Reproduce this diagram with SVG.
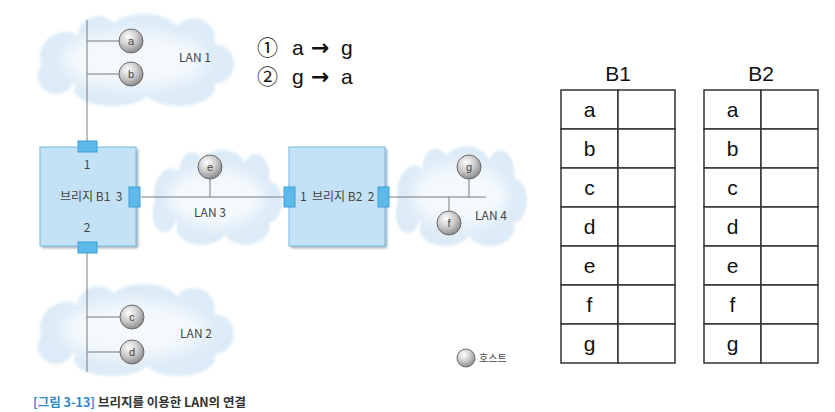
<svg xmlns="http://www.w3.org/2000/svg" xmlns:xlink="http://www.w3.org/1999/xlink" width="835" height="412" viewBox="0 0 835 412">
<style>
.lbl{font-family:"Noto Sans CJK KR","Liberation Sans",sans-serif;font-size:12px;fill:#444}
.hl{font-family:"Liberation Sans","Noto Sans CJK KR",sans-serif;font-size:11px;fill:#444;text-anchor:middle}
.ln{stroke:#7a7a7a;stroke-width:1;fill:none}
.host{fill:url(#hg);stroke:#6a6a6a;stroke-width:1}
.bridge{fill:#c3e2f5;stroke:#86c1e6;stroke-width:1.2}
.port{fill:#5cb9ea;stroke:#3d9fd8;stroke-width:1}
.big{font-family:"Liberation Sans","Noto Sans CJK KR",sans-serif;font-size:21px;fill:#111}
.arr{font-family:"DejaVu Sans",sans-serif;font-size:22px;fill:#111;font-weight:bold}
.cell{fill:#fff;stroke:#333;stroke-width:1.5}
.tc{font-family:"Liberation Sans",sans-serif;font-size:21px;fill:#111;text-anchor:middle}
</style>
<defs>
<radialGradient id="hg" cx="0.38" cy="0.32" r="0.7">
<stop offset="0" stop-color="#ffffff"/>
<stop offset="0.55" stop-color="#c9c9c9"/>
<stop offset="1" stop-color="#8a8a8a"/>
</radialGradient>
<filter id="soft" x="-10%" y="-10%" width="120%" height="120%"><feGaussianBlur stdDeviation="1.5"/></filter>
<filter id="soft2" x="-20%" y="-20%" width="140%" height="140%"><feGaussianBlur stdDeviation="8"/></filter>
<filter id="sh" x="-10%" y="-10%" width="120%" height="120%"><feGaussianBlur stdDeviation="1.5"/></filter>
<g id="cloud">
<g fill="#dcebf7" filter="url(#soft)">
<ellipse cx="100" cy="46" rx="88" ry="32"/>
<circle cx="32" cy="44" r="26"/>
<circle cx="64" cy="22" r="20"/>
<ellipse cx="110" cy="17" rx="34" ry="17"/>
<circle cx="160" cy="25" r="21"/>
<circle cx="180" cy="50" r="20"/>
<ellipse cx="145" cy="74" rx="36" ry="18"/>
<ellipse cx="78" cy="76" rx="38" ry="16"/>
<circle cx="22" cy="62" r="18"/>
</g>
<ellipse cx="100" cy="46" rx="72" ry="28" fill="#f5f9fd" filter="url(#soft2)"/>
</g>
</defs>
<rect width="835" height="412" fill="#fff"/>

<g id="lan1">
<use xlink:href="#cloud" transform="translate(34,14)"/>
<text class="lbl" x="195" y="62" text-anchor="middle">LAN 1</text>
</g>
<g id="lan2">
<use xlink:href="#cloud" transform="translate(34,284)"/>
<text class="lbl" x="196" y="338" text-anchor="middle">LAN 2</text>
</g>
<g id="lan3">
<use xlink:href="#cloud" transform="translate(150,150) scale(0.66,1.03)"/>
<text class="lbl" x="210" y="217" text-anchor="middle">LAN 3</text>
</g>
<g id="lan4">
<use xlink:href="#cloud" transform="translate(393,146) scale(0.67,1.09)"/>
<text class="lbl" x="491" y="220" text-anchor="middle">LAN 4</text>
</g>

<g id="connectors">
<line class="ln" x1="87" y1="20" x2="87" y2="142"/>
<line class="ln" x1="87" y1="41" x2="119" y2="41"/>
<line class="ln" x1="87" y1="74" x2="119" y2="74"/>
<line class="ln" x1="87" y1="253" x2="87" y2="372"/>
<line class="ln" x1="87" y1="317" x2="120" y2="317"/>
<line class="ln" x1="87" y1="352" x2="120" y2="352"/>
<line class="ln" x1="141" y1="197" x2="284" y2="197"/>
<line class="ln" x1="210" y1="179" x2="210" y2="197"/>
<line class="ln" x1="389" y1="197" x2="486" y2="197"/>
<line class="ln" x1="469" y1="179" x2="469" y2="197"/>
<line class="ln" x1="449" y1="197" x2="449" y2="211"/>
</g>

<g id="bridgeB1">
<rect x="42" y="149" width="96" height="99" fill="#9aa6b0" filter="url(#sh)"/>
<rect class="bridge" x="40" y="147" width="96" height="99"/>
<rect class="port" x="78" y="141" width="19" height="11"/>
<rect class="port" x="78" y="242" width="19" height="11"/>
<rect class="port" x="129" y="187" width="11" height="20"/>
<text class="lbl" x="87" y="169" text-anchor="middle">1</text>
<text class="lbl" x="60" y="201" xml:space="preserve">브리지 B1  3</text>
<text class="lbl" x="87" y="232" text-anchor="middle">2</text>
</g>

<g id="bridgeB2">
<rect x="291" y="149" width="96" height="99" fill="#9aa6b0" filter="url(#sh)"/>
<rect class="bridge" x="289" y="147" width="96" height="99"/>
<rect class="port" x="284" y="187" width="11" height="20"/>
<rect class="port" x="378" y="187" width="11" height="20"/>
<text class="lbl" x="300" y="201" xml:space="preserve">1  브리지 B2  2</text>
</g>

<g id="host-a"><circle class="host" cx="131" cy="41" r="12"/><text class="hl" x="131" y="45">a</text></g>
<g id="host-b"><circle class="host" cx="131" cy="74" r="12"/><text class="hl" x="131" y="78">b</text></g>
<g id="host-c"><circle class="host" cx="132" cy="317" r="12"/><text class="hl" x="132" y="321">c</text></g>
<g id="host-d"><circle class="host" cx="132" cy="352" r="12"/><text class="hl" x="132" y="356">d</text></g>
<g id="host-e"><circle class="host" cx="210" cy="167" r="12"/><text class="hl" x="210" y="171">e</text></g>
<g id="host-g"><circle class="host" cx="469" cy="167" r="12"/><text class="hl" x="469" y="171">g</text></g>
<g id="host-f"><circle class="host" cx="449" cy="223" r="12"/><text class="hl" x="449" y="227">f</text></g>

<g id="legend">
<circle class="host" cx="466" cy="358" r="9"/>
<text class="lbl" x="479" y="362" style="font-size:10px">호스트</text>
</g>

<g id="annotation">
<text class="big" x="257" y="55">①</text><text class="big" x="292" y="55">a</text><text class="arr" x="311" y="55">→</text><text class="big" x="341" y="55">g</text>
<text class="big" x="257" y="84">②</text><text class="big" x="292" y="84">g</text><text class="arr" x="311" y="84">→</text><text class="big" x="341" y="84">a</text>
</g>

<g id="tableB1">
<text class="tc" x="618" y="81">B1</text>
<rect class="cell" x="561" y="90" width="57" height="39"/><rect class="cell" x="618" y="90" width="57" height="39"/>
<rect class="cell" x="561" y="129" width="57" height="39"/><rect class="cell" x="618" y="129" width="57" height="39"/>
<rect class="cell" x="561" y="168" width="57" height="39"/><rect class="cell" x="618" y="168" width="57" height="39"/>
<rect class="cell" x="561" y="207" width="57" height="39"/><rect class="cell" x="618" y="207" width="57" height="39"/>
<rect class="cell" x="561" y="246" width="57" height="39"/><rect class="cell" x="618" y="246" width="57" height="39"/>
<rect class="cell" x="561" y="285" width="57" height="39"/><rect class="cell" x="618" y="285" width="57" height="39"/>
<rect class="cell" x="561" y="324" width="57" height="39"/><rect class="cell" x="618" y="324" width="57" height="39"/>
<text class="tc" x="589.5" y="117">a</text>
<text class="tc" x="589.5" y="156">b</text>
<text class="tc" x="589.5" y="195">c</text>
<text class="tc" x="589.5" y="234">d</text>
<text class="tc" x="589.5" y="273">e</text>
<text class="tc" x="589.5" y="312">f</text>
<text class="tc" x="589.5" y="351">g</text>
</g>

<g id="tableB2">
<text class="tc" x="761" y="81">B2</text>
<rect class="cell" x="704" y="90" width="57" height="39"/><rect class="cell" x="761" y="90" width="57" height="39"/>
<rect class="cell" x="704" y="129" width="57" height="39"/><rect class="cell" x="761" y="129" width="57" height="39"/>
<rect class="cell" x="704" y="168" width="57" height="39"/><rect class="cell" x="761" y="168" width="57" height="39"/>
<rect class="cell" x="704" y="207" width="57" height="39"/><rect class="cell" x="761" y="207" width="57" height="39"/>
<rect class="cell" x="704" y="246" width="57" height="39"/><rect class="cell" x="761" y="246" width="57" height="39"/>
<rect class="cell" x="704" y="285" width="57" height="39"/><rect class="cell" x="761" y="285" width="57" height="39"/>
<rect class="cell" x="704" y="324" width="57" height="39"/><rect class="cell" x="761" y="324" width="57" height="39"/>
<text class="tc" x="732.5" y="117">a</text>
<text class="tc" x="732.5" y="156">b</text>
<text class="tc" x="732.5" y="195">c</text>
<text class="tc" x="732.5" y="234">d</text>
<text class="tc" x="732.5" y="273">e</text>
<text class="tc" x="732.5" y="312">f</text>
<text class="tc" x="732.5" y="351">g</text>
</g>

<g id="caption">
<text x="33" y="407" style="font-family:'Noto Sans CJK KR',sans-serif;font-size:12.5px"><tspan fill="#2f88c8" font-weight="bold">[그림 3-13]</tspan><tspan fill="#333" font-weight="bold"> 브리지를 이용한 LAN의 연결</tspan></text>
</g>
</svg>
